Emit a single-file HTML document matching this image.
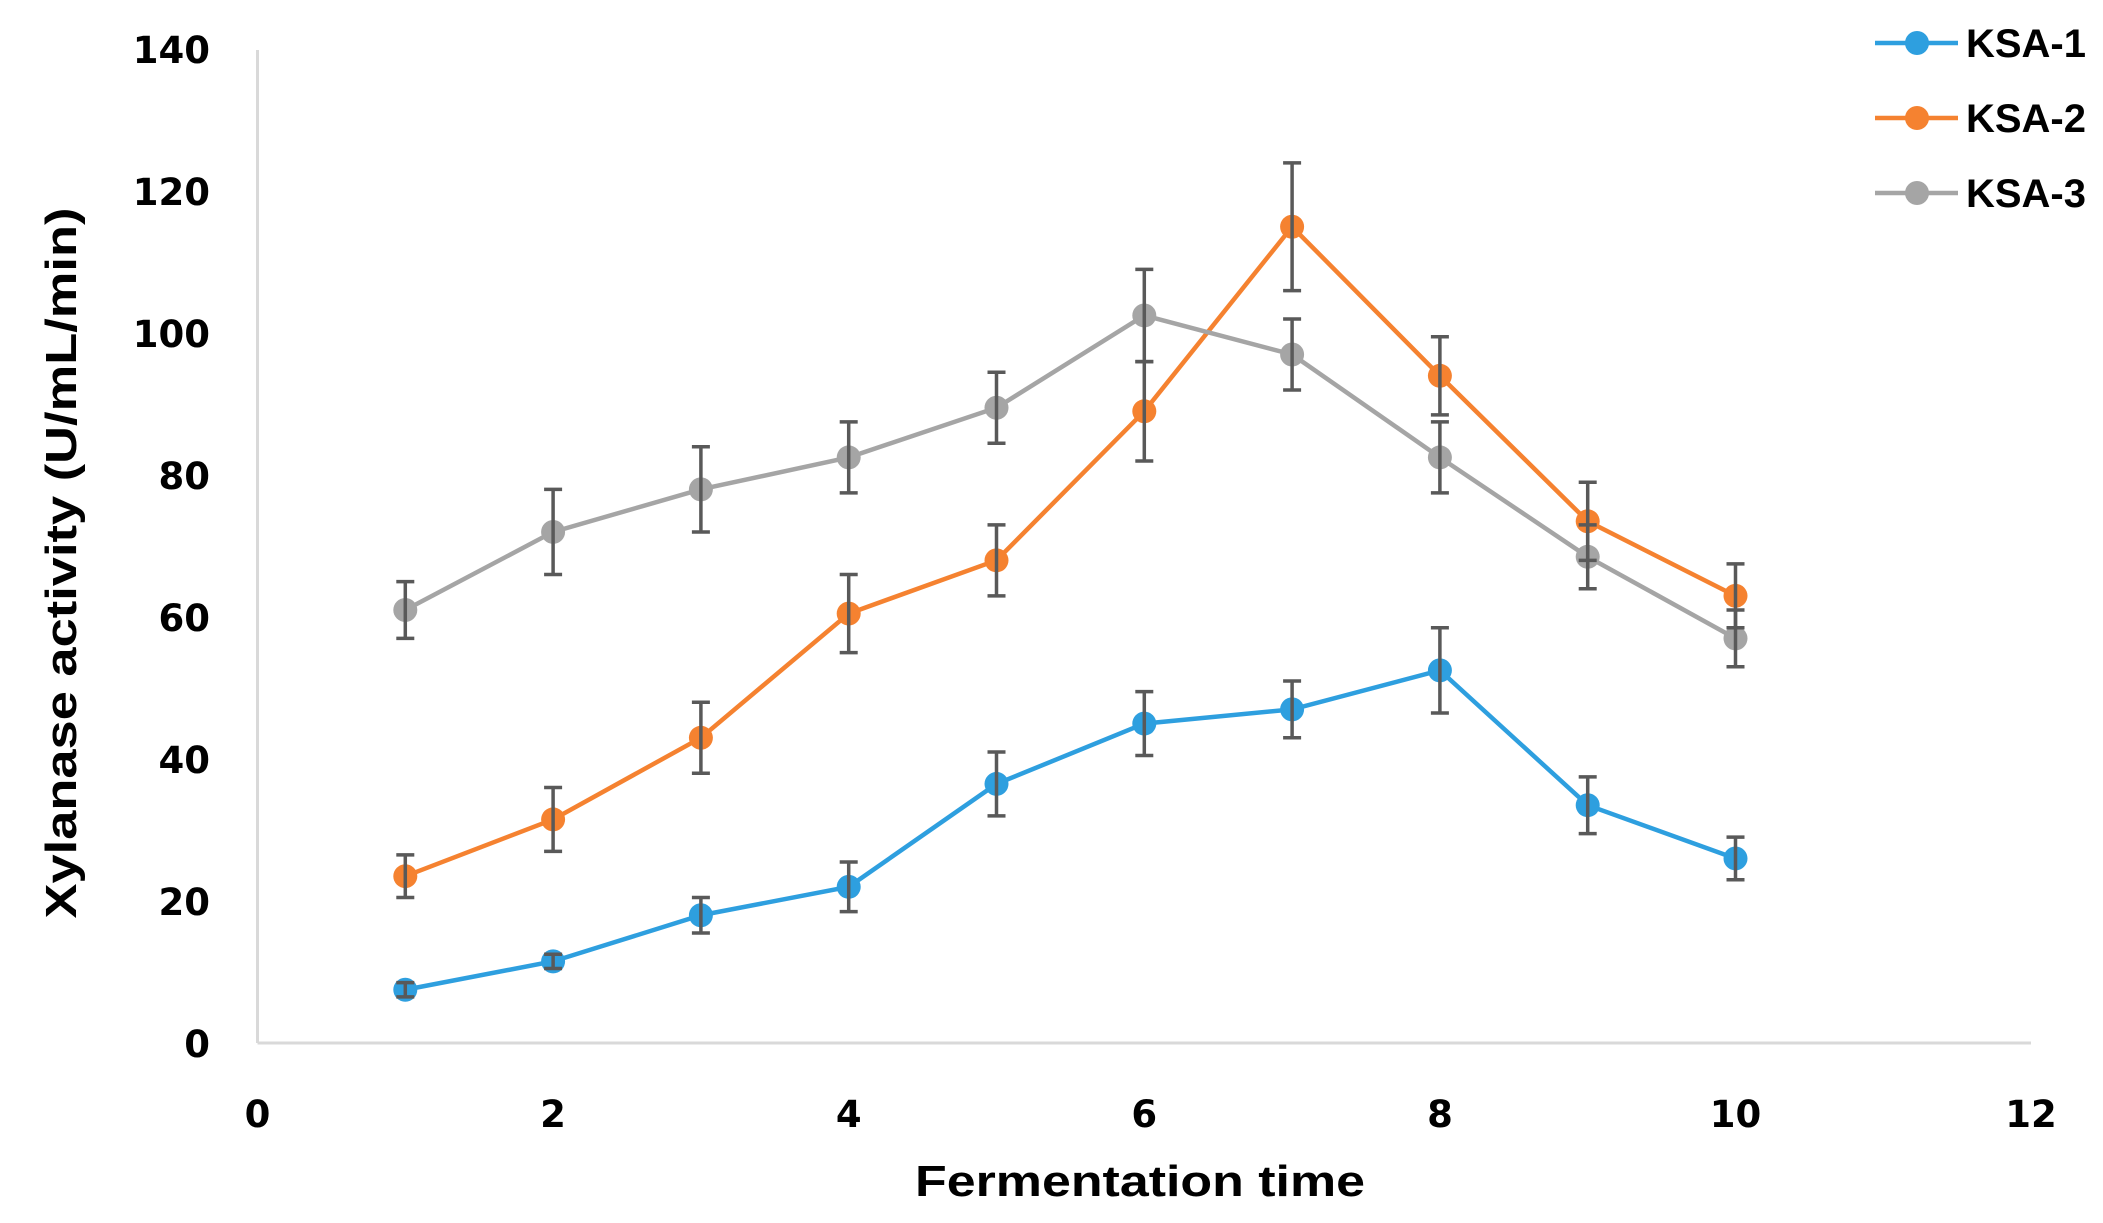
<!DOCTYPE html>
<html><head><meta charset="utf-8"><style>
html,body{margin:0;padding:0;background:#fff;}
svg{display:block;}
.t{font-family:"DejaVu Sans","Liberation Sans",sans-serif;font-weight:bold;font-size:37px;fill:#000;}
.l{font-family:"Liberation Sans",sans-serif;font-weight:bold;fill:#000;}
</style></head><body>
<svg id="s" width="2103" height="1223" viewBox="0 0 2103 1223" xmlns="http://www.w3.org/2000/svg">
<line x1="257.5" y1="50" x2="257.5" y2="1043" stroke="#d9d9d9" stroke-width="3"/>
<line x1="257.5" y1="1043" x2="2031" y2="1043" stroke="#d9d9d9" stroke-width="3"/>
<g class="t" text-anchor="end">
<text x="210" y="1057">0</text>
<text x="210" y="915">20</text>
<text x="210" y="773">40</text>
<text x="210" y="631">60</text>
<text x="210" y="489">80</text>
<text x="210" y="347">100</text>
<text x="210" y="205">120</text>
<text x="210" y="63">140</text>
</g>
<g class="t" text-anchor="middle">
<text x="257.5" y="1127">0</text>
<text x="553" y="1127">2</text>
<text x="848.7" y="1127">4</text>
<text x="1144.3" y="1127">6</text>
<text x="1440" y="1127">8</text>
<text x="1735.5" y="1127">10</text>
<text x="2031" y="1127">12</text>
</g>
<text class="l" x="1140" y="1196" text-anchor="middle" font-size="44" textLength="450" lengthAdjust="spacingAndGlyphs">Fermentation time</text>
<text class="l" transform="translate(76,563) rotate(-90)" text-anchor="middle" font-size="44" textLength="711" lengthAdjust="spacingAndGlyphs">Xylanase activity (U/mL/min)</text>
<g id="g"></g>
<g class="l" font-size="40">
<text x="1966" y="57" textLength="120" lengthAdjust="spacingAndGlyphs">KSA-1</text>
<text x="1966" y="132" textLength="120" lengthAdjust="spacingAndGlyphs">KSA-2</text>
<text x="1966" y="207" textLength="120" lengthAdjust="spacingAndGlyphs">KSA-3</text>
</g>
</svg>
<script>
var X=function(v){return 257.5+v*147.8;},Y=function(v){return 1043-v*7.098;};
var S=[
{c:"#2e9fdf",d:[7.5,11.5,18,22,36.5,45,47,52.5,33.5,26],e:[1,1,2.5,3.5,4.5,4.5,4,6,4,3]},
{c:"#f58230",d:[23.5,31.5,43,60.5,68,89,115,94,73.5,63],e:[3,4.5,5,5.5,5,7,9,5.5,5.5,4.5]},
{c:"#a5a5a5",d:[61,72,78,82.5,89.5,102.5,97,82.5,68.5,57],e:[4,6,6,5,5,6.5,5,5,4.5,4]}];
var h="";
S.forEach(function(s){var p=s.d.map(function(v,i){return X(i+1)+","+Y(v);}).join(" ");
h+='<polyline points="'+p+'" fill="none" stroke="'+s.c+'" stroke-width="4.5"/>';
s.d.forEach(function(v,i){h+='<circle cx="'+X(i+1)+'" cy="'+Y(v)+'" r="12" fill="'+s.c+'"/>';});});
S.forEach(function(s){s.d.forEach(function(v,i){var x=X(i+1),a=Y(v+s.e[i]),b=Y(v-s.e[i]);
h+='<path d="M'+x+' '+a+'V'+b+'M'+(x-9)+' '+a+'H'+(x+9)+'M'+(x-9)+' '+b+'H'+(x+9)+'" stroke="#595959" stroke-width="3.5" fill="none"/>';});});
var L=[43,118,193];
S.forEach(function(s,i){h+='<line x1="1875" y1="'+L[i]+'" x2="1958" y2="'+L[i]+'" stroke="'+s.c+'" stroke-width="4.5"/><circle cx="1917" cy="'+L[i]+'" r="12" fill="'+s.c+'"/>';});
document.getElementById("g").innerHTML=h;
</script>
</body></html>
